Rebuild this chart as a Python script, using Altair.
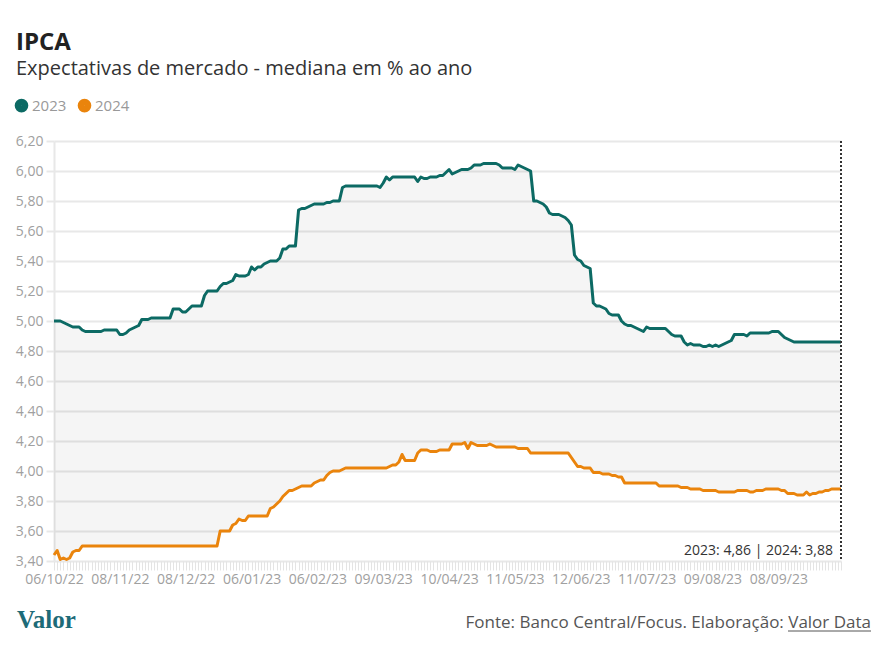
import altair as alt
import pandas as pd

# ---------------- data ----------------
START = "2022-10-06"
END = "2023-10-09"
HOLIDAYS = ["2022-10-12", "2022-11-02", "2022-11-15", "2023-02-20", "2023-02-21",
            "2023-04-07", "2023-04-21", "2023-05-01", "2023-06-08", "2023-09-07"]
X_LABELS = ["06/10/22", "08/11/22", "08/12/22", "06/01/23", "06/02/23", "09/03/23",
            "10/04/23", "11/05/23", "12/06/23", "11/07/23", "09/08/23", "08/09/23"]
Y_TICKS = [3.4, 3.6, 3.8, 4.0, 4.2, 4.4, 4.6, 4.8, 5.0, 5.2, 5.4, 5.6, 5.8, 6.0, 6.2]
SERIES = ["2023", "2024"]

V2023 = [
    5.00, 5.00, 5.00, 4.99, 4.98, 4.97, 4.96, 4.96, 4.96, 4.94,
    4.93, 4.93, 4.93, 4.93, 4.93, 4.93, 4.94, 4.94, 4.94, 4.94,
    4.94, 4.91, 4.91, 4.92, 4.94, 4.95, 4.96, 4.97, 5.01, 5.01,
    5.01, 5.02, 5.02, 5.02, 5.02, 5.02, 5.02, 5.02, 5.08, 5.08,
    5.08, 5.06, 5.06, 5.08, 5.10, 5.10, 5.10, 5.10, 5.17, 5.20,
    5.20, 5.20, 5.20, 5.23, 5.25, 5.25, 5.26, 5.27, 5.31, 5.30,
    5.30, 5.30, 5.31, 5.36, 5.34, 5.36, 5.36, 5.38, 5.39, 5.40,
    5.40, 5.40, 5.42, 5.48, 5.48, 5.50, 5.50, 5.50, 5.74, 5.75,
    5.75, 5.76, 5.77, 5.78, 5.78, 5.78, 5.78, 5.79, 5.79, 5.80,
    5.80, 5.80, 5.89, 5.90, 5.90, 5.90, 5.90, 5.90, 5.90, 5.90,
    5.90, 5.90, 5.90, 5.90, 5.89, 5.92, 5.96, 5.94, 5.96, 5.96,
    5.96, 5.96, 5.96, 5.96, 5.96, 5.96, 5.93, 5.96, 5.95, 5.95,
    5.96, 5.96, 5.96, 5.97, 5.97, 5.99, 6.01, 5.98, 5.99, 6.00,
    6.01, 6.01, 6.01, 6.02, 6.04, 6.04, 6.04, 6.05, 6.05, 6.05,
    6.05, 6.05, 6.04, 6.02, 6.02, 6.02, 6.02, 6.01, 6.04, 6.03,
    6.02, 6.01, 6.00, 5.80, 5.80, 5.79, 5.78, 5.76, 5.72, 5.71,
    5.71, 5.71, 5.70, 5.69, 5.67, 5.64, 5.44, 5.41, 5.40, 5.37,
    5.36, 5.35, 5.12, 5.10, 5.10, 5.09, 5.08, 5.05, 5.04, 5.04,
    5.04, 5.00, 4.98, 4.97, 4.97, 4.96, 4.95, 4.94, 4.93, 4.96,
    4.95, 4.95, 4.95, 4.95, 4.95, 4.95, 4.93, 4.91, 4.90, 4.90,
    4.90, 4.86, 4.84, 4.85, 4.84, 4.84, 4.84, 4.83, 4.83, 4.84,
    4.83, 4.84, 4.83, 4.84, 4.85, 4.86, 4.87, 4.91, 4.91, 4.91,
    4.91, 4.90, 4.92, 4.92, 4.92, 4.92, 4.92, 4.92, 4.92, 4.93,
    4.93, 4.93, 4.91, 4.89, 4.88, 4.87, 4.86, 4.86, 4.86, 4.86,
    4.86, 4.86, 4.86, 4.86, 4.86, 4.86, 4.86, 4.86, 4.86, 4.86,
    4.86, 4.86,
]

V2024 = [
    3.44, 3.47, 3.41, 3.42, 3.41, 3.42, 3.46, 3.47, 3.47, 3.50,
    3.50, 3.50, 3.50, 3.50, 3.50, 3.50, 3.50, 3.50, 3.50, 3.50,
    3.50, 3.50, 3.50, 3.50, 3.50, 3.50, 3.50, 3.50, 3.50, 3.50,
    3.50, 3.50, 3.50, 3.50, 3.50, 3.50, 3.50, 3.50, 3.50, 3.50,
    3.50, 3.50, 3.50, 3.50, 3.50, 3.50, 3.50, 3.50, 3.50, 3.50,
    3.50, 3.50, 3.50, 3.60, 3.60, 3.60, 3.60, 3.64, 3.65, 3.68,
    3.67, 3.67, 3.70, 3.70, 3.70, 3.70, 3.70, 3.70, 3.70, 3.75,
    3.76, 3.78, 3.80, 3.83, 3.85, 3.87, 3.87, 3.88, 3.89, 3.90,
    3.90, 3.90, 3.90, 3.92, 3.93, 3.94, 3.94, 3.97, 3.99, 4.00,
    4.00, 4.00, 4.01, 4.02, 4.02, 4.02, 4.02, 4.02, 4.02, 4.02,
    4.02, 4.02, 4.02, 4.02, 4.02, 4.02, 4.02, 4.03, 4.04, 4.04,
    4.06, 4.11, 4.07, 4.07, 4.07, 4.07, 4.12, 4.14, 4.14, 4.14,
    4.13, 4.13, 4.13, 4.14, 4.14, 4.14, 4.14, 4.18, 4.18, 4.18,
    4.18, 4.19, 4.15, 4.19, 4.18, 4.17, 4.17, 4.17, 4.17, 4.18,
    4.17, 4.16, 4.16, 4.16, 4.16, 4.16, 4.16, 4.16, 4.15, 4.15,
    4.15, 4.15, 4.12, 4.12, 4.12, 4.12, 4.12, 4.12, 4.12, 4.12,
    4.12, 4.12, 4.12, 4.12, 4.12, 4.09, 4.06, 4.03, 4.03, 4.02,
    4.02, 4.02, 3.99, 3.99, 3.99, 3.98, 3.98, 3.98, 3.97, 3.97,
    3.96, 3.96, 3.92, 3.92, 3.92, 3.92, 3.92, 3.92, 3.92, 3.92,
    3.92, 3.92, 3.92, 3.90, 3.90, 3.90, 3.90, 3.90, 3.90, 3.90,
    3.89, 3.89, 3.89, 3.88, 3.88, 3.88, 3.88, 3.87, 3.87, 3.87,
    3.87, 3.87, 3.86, 3.86, 3.86, 3.86, 3.86, 3.86, 3.87, 3.87,
    3.87, 3.87, 3.86, 3.86, 3.87, 3.87, 3.87, 3.88, 3.88, 3.88,
    3.88, 3.88, 3.87, 3.87, 3.85, 3.85, 3.85, 3.84, 3.84, 3.84,
    3.86, 3.84, 3.85, 3.85, 3.86, 3.86, 3.87, 3.87, 3.88, 3.88,
    3.88, 3.88,
]

TITLE = "IPCA"
SUBTITLE = "Expectativas de mercado - mediana em % ao ano"
SOURCE = "Fonte: Banco Central/Focus. Elaboração: Valor Data"
LOGO = "Valor"

TEAL = "#0c6a64"
ORANGE = "#ea840c"
FONT = "Open Sans"

# ---------------- frames ----------------
dates = pd.bdate_range(START, END, freq="C", holidays=HOLIDAYS)
DATES = [d.strftime("%d/%m/%y") for d in dates]
n = min(len(DATES), len(V2023), len(V2024))
DATES = DATES[:n]

wide = pd.DataFrame({"d": DATES, "v23": V2023[:n], "v24": V2024[:n]})
long = pd.concat([
    pd.DataFrame({"d": DATES, "value": V2023[:n], "series": SERIES[0]}),
    pd.DataFrame({"d": DATES, "value": V2024[:n], "series": SERIES[1]}),
])


def br(v):
    return f"{v:.2f}".replace(".", ",")


last = pd.DataFrame({
    "d": [DATES[-1]],
    "label": [f"2023: {br(V2023[n-1])} | 2024: {br(V2024[n-1])}"],
})

label_list = "[" + ",".join(f"'{s}'" for s in X_LABELS) + "]"

X = alt.X(
    "d:O",
    sort=DATES,
    scale=alt.Scale(type="point", padding=0),
    axis=alt.Axis(
        title=None,
        labelExpr=f"indexof({label_list}, datum.value) >= 0 ? datum.value : ''",
        labelOverlap=False,
        labelAngle=0,
        labelFont=FONT,
        labelFontSize=14,
        labelColor="#a0a0a0",
        labelPadding=2,
        ticks=True,
        tickSize=9,
        tickColor="#e4e4e4",
        tickWidth=1,
        domain=False,
        grid=False,
    ),
)

YSCALE = alt.Scale(domain=[3.4, 6.2], nice=False, zero=False)
YAXIS = alt.Axis(
    title=None,
    values=Y_TICKS,
    labelExpr="replace(format(datum.value, '.2f'), '.', ',')",
    labelFont=FONT,
    labelFontSize=14,
    labelColor="#a0a0a0",
    labelPadding=3,
    tickSize=8,
    tickColor="#e8e8e8",
    tickWidth=2,
    grid=True,
    gridColor="#e8e8e8",
    gridWidth=2,
    domain=True,
    domainColor="#e8e8e8",
    domainWidth=2,
)

band = alt.Chart(wide).mark_area(color="#000000", opacity=0.04).encode(
    x=X,
    y=alt.Y("v23:Q", scale=YSCALE, axis=YAXIS),
    y2="v24:Q",
)

lines = alt.Chart(long).mark_line(strokeWidth=3, strokeJoin="round").encode(
    x=X,
    y=alt.Y("value:Q", scale=YSCALE, axis=YAXIS),
    color=alt.Color(
        "series:N",
        scale=alt.Scale(domain=SERIES, range=[TEAL, ORANGE]),
        legend=alt.Legend(
            title=None,
            orient="none",
            legendX=-40,
            legendY=-43,
            direction="horizontal",
            symbolType="circle",
            symbolSize=44,
            symbolStrokeWidth=7,
            symbolOpacity=1,
            labelFont=FONT,
            labelFontSize=15,
            labelColor="#999999",
            labelOffset=3,
            columnPadding=0,
        ),
    ),
)

rule = alt.Chart(last).mark_rule(color="#333333", strokeWidth=2, strokeDash=[2, 2]).encode(
    x=X,
)

annot = alt.Chart(last).mark_text(
    align="right", baseline="alphabetic", dx=-8, font=FONT, fontSize=14, color="#333333"
).encode(x=X, y=alt.value(414), text="label:N")

source = alt.Chart(pd.DataFrame({"t": [SOURCE]})).mark_text(
    align="right", baseline="alphabetic", font=FONT, fontSize=17, color="#555555"
).encode(x=alt.value(817), y=alt.value(487), text="t:N")

underline = alt.Chart(pd.DataFrame({"t": [SOURCE]})).mark_rule(
    color="#555555", strokeWidth=1
).encode(x=alt.value(734), x2=alt.value(817), y=alt.value(490))

logo = alt.Chart(pd.DataFrame({"t": [LOGO]})).mark_text(
    align="left", baseline="alphabetic", font="Liberation Serif", fontSize=25,
    fontWeight="bold", color="#1d6b78"
).encode(x=alt.value(-37), y=alt.value(487), text="t:N")

chart = alt.layer(band, lines, rule, annot, source, underline, logo).properties(
    width=787,
    height=420,
    autosize=alt.AutoSizeParams(type="none"),
    padding={"left": 46, "top": 133, "right": 45, "bottom": 77},
    title=alt.TitleParams(
        text=TITLE,
        subtitle=SUBTITLE,
        anchor="start",
        frame="group",
        dx=-38,
        offset=19,
        font=FONT,
        fontSize=24,
        fontWeight="bold",
        color="#222222",
        subtitleFont=FONT,
        subtitleFontSize=20,
        subtitleColor="#333333",
        subtitlePadding=4,
    ),
).configure_view(stroke=None)

chart.save("out.html", embed_options={"renderer": "svg", "actions": False})
